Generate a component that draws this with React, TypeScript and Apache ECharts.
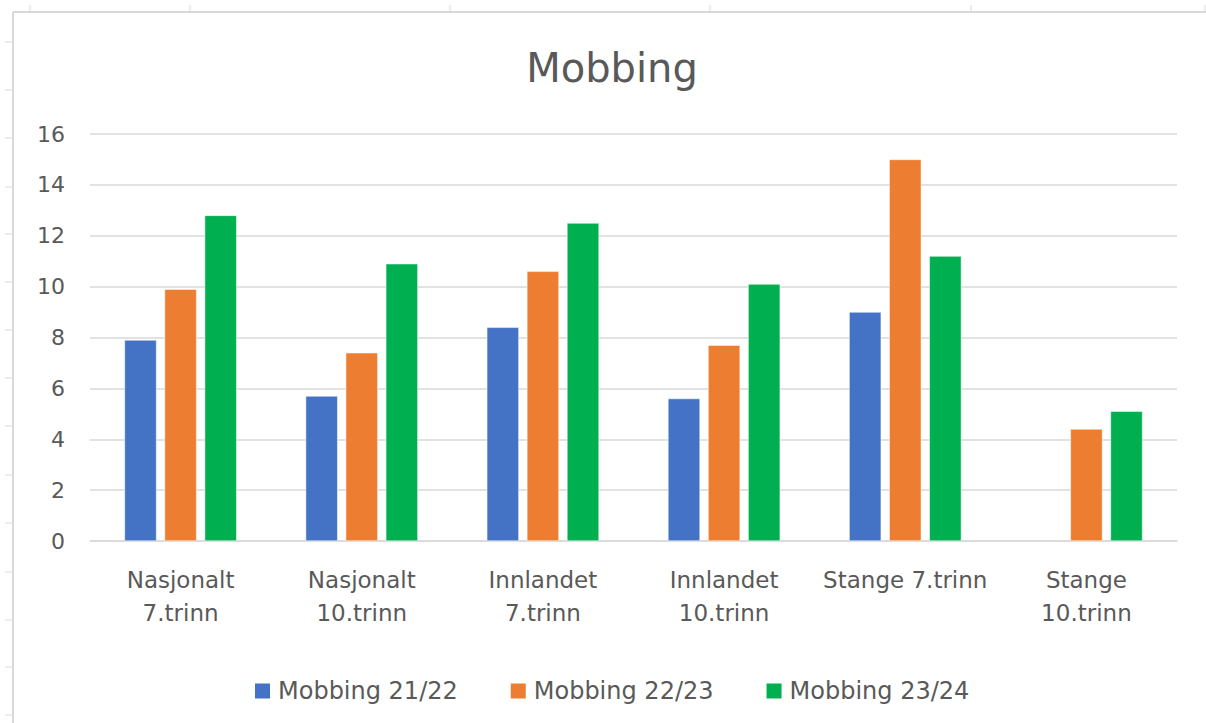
import React, { useEffect, useRef } from "react";
import * as echarts from "echarts";

const categories = [
  "Nasjonalt\n7.trinn",
  "Nasjonalt\n10.trinn",
  "Innlandet\n7.trinn",
  "Innlandet\n10.trinn",
  "Stange 7.trinn",
  "Stange\n10.trinn",
];
const seriesNames = ["Mobbing 21/22", "Mobbing 22/23", "Mobbing 23/24"];
const mobbing2122 = [7.9, 5.7, 8.4, 5.6, 9.0, null];
const mobbing2223 = [9.9, 7.4, 10.6, 7.7, 15.0, 4.4];
const mobbing2324 = [12.8, 10.9, 12.5, 10.1, 11.2, 5.1];
const colors = ["#4472C4", "#ED7D31", "#00B050"];
const yTicks = { min: 0, max: 16, interval: 2 };

const FONT = "'DejaVu Sans', 'Noto Sans', sans-serif";
const TEXT = "#595959";
const FRAME = "#d9d9d9";

export default function App() {
  const ref = useRef<HTMLDivElement>(null);
  useEffect(() => {
    if (!ref.current) return;
    const chart = echarts.init(ref.current, null, { renderer: "svg" });

    const frame: any[] = [
      { type: "line", shape: { x1: 13, y1: 12, x2: 1206, y2: 12 }, style: { stroke: FRAME, lineWidth: 2 }, silent: true },
      { type: "line", shape: { x1: 13, y1: 12, x2: 13, y2: 723 }, style: { stroke: FRAME, lineWidth: 2 }, silent: true },
    ];
    [42, 90, 138, 187, 234, 282, 330, 378, 426, 475, 523, 572, 620, 667, 715].forEach((y) =>
      frame.push({ type: "line", shape: { x1: 5, y1: y, x2: 13, y2: y }, style: { stroke: FRAME, lineWidth: 1 }, silent: true })
    );
    [30, 190, 450, 710, 971, 1205].forEach((x) =>
      frame.push({ type: "line", shape: { x1: x, y1: 5, x2: x, y2: 12 }, style: { stroke: FRAME, lineWidth: 1 }, silent: true })
    );

    const data = [mobbing2122, mobbing2223, mobbing2324];

    chart.setOption({
      animation: false,
      backgroundColor: "#ffffff",
      textStyle: { fontFamily: FONT },
      title: {
        text: "Mobbing",
        left: 607,
        textAlign: "center",
        top: 43,
        textStyle: { fontFamily: FONT, fontSize: 40, fontWeight: "normal", color: TEXT },
      },
      grid: { left: 90, right: 29, top: 134, bottom: 182, containLabel: false },
      legend: {
        data: seriesNames,
        left: 248,
        top: 674,
        itemWidth: 17,
        itemHeight: 17,
        itemGap: 51,
        icon: "rect",
        textStyle: { fontFamily: FONT, fontSize: 24, color: TEXT, padding: [0, 0, 0, 2] },
      },
      xAxis: {
        type: "category",
        data: categories,
        axisLine: { lineStyle: { color: FRAME, width: 1.5 } },
        axisTick: { show: false },
        axisLabel: { fontFamily: FONT, fontSize: 23, color: TEXT, lineHeight: 33, margin: 22, interval: 0 },
      },
      yAxis: {
        type: "value",
        min: yTicks.min,
        max: yTicks.max,
        interval: yTicks.interval,
        axisLine: { show: false },
        axisTick: { show: false },
        splitLine: { lineStyle: { color: FRAME, width: 1.5 } },
        axisLabel: { fontFamily: FONT, fontSize: 22, color: TEXT, margin: 25 },
      },
      series: seriesNames.map((name, i) => ({
        name,
        type: "bar",
        data: data[i],
        barWidth: "17.7%",
        barGap: "25%",
        itemStyle: { color: colors[i], borderColor: "#ffffff", borderWidth: 0.5 },
      })),
      graphic: frame,
    });
    return () => chart.dispose();
  }, []);
  return (
    <div
      ref={ref}
      style={{ position: "fixed", left: 0, top: 0, width: 1206, height: 723, background: "#fff" }}
    />
  );
}
